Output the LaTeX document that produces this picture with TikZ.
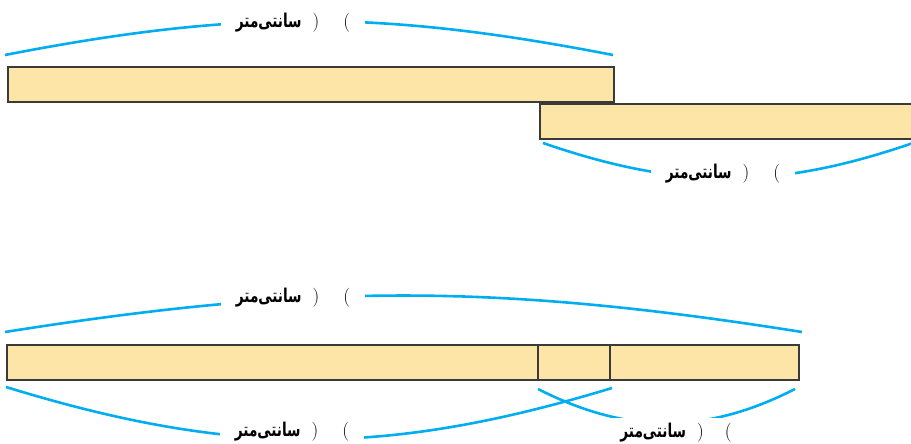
\documentclass[tikz,border=0pt]{standalone}
\usepackage{fontspec}
\usepackage{graphicx}
\TeXXeTstate=1
\newfontfamily\farsi[Script=Arabic]{DejaVu Sans}
\usetikzlibrary{positioning,calc}
\definecolor{zard}{HTML}{FDE5A8}
\definecolor{abi}{HTML}{00AEEF}
\definecolor{tire}{HTML}{3A3A3A}
\newcommand{\santimetr}{\scalebox{0.72}[1]{\farsi\bfseries\beginR سانتی^^^^200cمتر\endR}}
\newcommand{\jakhali}[1]{\santimetr\hspace{11pt})\hspace{#1}(}

\begin{document}
\begin{tikzpicture}[x=1pt,y=-1pt,
  navar/.style={rectangle,draw=tire,fill=zard,line width=1.6pt,outer sep=0pt,inner sep=0pt,minimum height=35pt},
  kaman/.style={abi,line width=2.6pt},
  barchasb/.style={fill=white,inner xsep=15pt,inner ysep=5pt,font=\fontsize{19}{21}\selectfont}]
\clip (0,0) rectangle (911,444);
% shekl 1
\node[navar,minimum width=606pt,anchor=north west] (n1) at (8,67) {};
\node[navar,minimum width=375pt,anchor=north west] (n2) at (540,104) {};
\coordinate (k1a) at ($(n1.north west)+(-3,-12)$);
\coordinate (k1b) at ($(n1.north east)+(-1,-12)$);
\coordinate (k2a) at ($(n2.south west)+(3,4)$);
\coordinate (k2b) at ($(n2.south east)+(-2,4)$);
\draw[kaman] (k1a) to[bend left=11] (k1b);
\draw[kaman] (k2a) to[bend right=19] (k2b);
\node[barchasb] (b1) at (293,23) {\jakhali{24pt}};
\node[barchasb] (b2) at (723,174) {\jakhali{24pt}};
% shekl 2
\node[navar,minimum width=531pt,anchor=north west] (s1) at (7,345) {};
\node[navar,minimum width=72pt,right=0pt of s1] (s2) {};
\node[navar,minimum width=189pt,right=0pt of s2] (s3) {};
\coordinate (k3a) at ($(s1.north west)+(-2,-13)$);
\coordinate (k3b) at ($(s3.north east)+(3,-13)$);
\coordinate (k4a) at ($(s1.south west)+(-1,7)$);
\coordinate (k4b) at ($(s2.south east)+(2,8)$);
\coordinate (k5a) at ($(s2.south west)+(0,9)$);
\coordinate (k5b) at ($(s3.south east)+(-4,9)$);
\draw[kaman] (k3a) to[bend left=9] (k3b);
\draw[kaman] (k4a) to[bend right=17] (k4b);
\draw[kaman] (k5a) to[bend right=27] (k5b);
\node[barchasb] (b3) at (293,298) {\jakhali{24pt}};
\node[barchasb] (b4) at (292,432) {\jakhali{24pt}};
\node[barchasb] (b5) at (676,433) {\jakhali{21pt}};
\end{tikzpicture}
\end{document}
